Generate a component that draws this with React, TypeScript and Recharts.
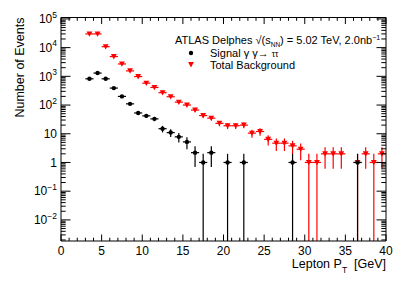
import React from "react";
import { ScatterChart, Scatter, XAxis, YAxis, ErrorBar } from "recharts";

// bin centres [GeV], events per bin and stat. errors
const sigX = [3.5, 4.5, 5.5, 6.5, 7.5, 8.5, 9.5, 10.5, 11.5, 12.5, 13.5, 14.5, 15.5, 16.5, 17.5, 18.5, 20.5, 22.5, 28.5, 36.5];
const sigY = [820, 1300, 820, 390, 200, 110, 53, 42, 33, 15, 11, 7.8, 5.2, 2.2, 1, 2.2, 1, 1, 1, 1];
const sigErr = [29, 36, 29, 20, 14, 10.5, 7.3, 6.5, 5.7, 3.9, 3.3, 2.8, 2.3, 1.5, 1, 1.5, 1, 1, 1, 1];

const bkgX = [
  3.5, 4.5, 5.5, 6.5, 7.5, 8.5, 9.5, 10.5, 11.5, 12.5, 13.5, 14.5, 15.5, 16.5, 17.5, 18.5,
  19.5, 20.5, 21.5, 22.5, 23.5, 24.5, 25.5, 26.5, 27.5, 28.5, 29.5, 30.5, 31.5, 32.5, 33.5, 34.5,
  36.5, 37.5, 38.5, 39.5,
];
const bkgY = [
  30000, 30000, 10800, 4900, 2700, 1550, 980, 580, 410, 270, 195, 126, 100, 67, 43, 35,
  23, 19, 19, 20, 10.5, 12, 6.4, 4.7, 4.7, 3.8, 2.9, 1, 1, 2, 2, 2,
  1, 2, 1, 2,
];
const bkgErr = [
  173, 173, 104, 70, 52, 39, 31, 24, 20, 16, 14, 11, 10, 8.2, 6.6, 5.9,
  4.8, 4.4, 4.4, 4.5, 3.2, 3.5, 2.5, 2.2, 2.2, 1.9, 1.7, 1, 1, 1.4, 1.4, 1.4,
  1, 1.4, 1, 1.4,
];

const BIN_HALF = 0.5;
const xMajorTicks = [0, 5, 10, 15, 20, 25, 30, 35, 40];
const yDecades = [-3, -2, -1, 0, 1, 2, 3, 4, 5];
const X_DOMAIN: [number, number] = [0, 40];
const Y_DOMAIN: [number, number] = [0.00184, 112000];

const FONT = "'Liberation Sans', Arial, Helvetica, sans-serif";

const toRows = (xs: number[], ys: number[], errs: number[]) =>
  xs.map((x, i) => ({
    x,
    y: ys[i],
    ex: BIN_HALF,
    // clip the lower error at the bottom of the log axis
    ey: [Math.min(errs[i], ys[i] - Y_DOMAIN[0]), errs[i]],
  }));

const sigData = toRows(sigX, sigY, sigErr);
const bkgData = toRows(bkgX, bkgY, bkgErr);

const xTicks: number[] = [];
for (let v = X_DOMAIN[0]; v <= X_DOMAIN[1]; v++) xTicks.push(v);

const yTicks: number[] = [];
yDecades.forEach((e) => {
  for (let m = 1; m <= 9; m++) {
    const v = m * Math.pow(10, e);
    if (v >= Y_DOMAIN[0] && v <= Y_DOMAIN[1]) yTicks.push(v);
  }
});

const isXMajor = (v: number) => xMajorTicks.includes(v);
const decadeOf = (v: number) => {
  const e = Math.round(Math.log10(v));
  return Math.abs(v / Math.pow(10, e) - 1) < 1e-6 ? e : null;
};

const XTickBottom = ({ x, y, payload }: any) => {
  const major = isXMajor(payload.value);
  return (
    <g>
      <line x1={x} x2={x} y1={y} y2={y - (major ? 6.5 : 3.3)} stroke="#000" />
      {major && (
        <text x={x} y={y + 14} textAnchor="middle" fontSize={12} fontFamily={FONT} fill="#000">
          {payload.value}
        </text>
      )}
    </g>
  );
};

const XTickTop = ({ x, y, payload }: any) => {
  const major = isXMajor(payload.value);
  return <line x1={x} x2={x} y1={y} y2={y + (major ? 6.5 : 3.3)} stroke="#000" />;
};

const YTickLeft = ({ x, y, payload }: any) => {
  const e = decadeOf(payload.value);
  const major = e !== null;
  let label: React.ReactNode = null;
  if (major) {
    const props = { x: x - 4, y: y + 4.3, textAnchor: "end" as const, fontSize: 12, fontFamily: FONT, fill: "#000" };
    if (e === 0) label = <text {...props}>1</text>;
    else if (e === 1) label = <text {...props}>10</text>;
    else if (e! >= -2)
      label = (
        <text {...props}>
          10
          <tspan dy={-5.5} fontSize={8.5}>
            {e! < 0 ? "\u2212" + -e! : e}
          </tspan>
        </text>
      );
  }
  return (
    <g>
      <line x1={x} x2={x + (major ? 9.5 : 4.7)} y1={y} y2={y} stroke="#000" />
      {label}
    </g>
  );
};

const YTickRight = ({ x, y, payload }: any) => {
  const major = decadeOf(payload.value) !== null;
  return <line x1={x} x2={x - (major ? 9.5 : 4.7)} y1={y} y2={y} stroke="#000" />;
};

const Dot = ({ cx, cy }: any) => <circle cx={cx} cy={cy} r={2.2} fill="#000" />;
const TriDown = ({ cx, cy }: any) => (
  <polygon points={`${cx - 2.9},${cy - 2.5} ${cx + 2.9},${cy - 2.5} ${cx},${cy + 2.9}`} fill="#ff0000" />
);

export default function App() {
  return (
    <div style={{ position: "absolute", left: 0, top: 0, width: 407, height: 281, background: "#fff" }}>
      <ScatterChart width={407} height={281} margin={{ top: 0, right: 0, bottom: 0, left: 0 }}>
        <XAxis
          xAxisId="bottom"
          dataKey="x"
          type="number"
          orientation="bottom"
          domain={X_DOMAIN}
          allowDataOverflow
          ticks={xTicks}
          interval={0}
          height={40}
          tickSize={0}
          tickMargin={0}
          tickLine={false}
          axisLine={{ stroke: "#000" }}
          tick={<XTickBottom />}
        />
        <XAxis
          xAxisId="top"
          dataKey="x"
          type="number"
          orientation="top"
          domain={X_DOMAIN}
          allowDataOverflow
          ticks={xTicks}
          interval={0}
          height={17.5}
          tickSize={0}
          tickMargin={0}
          tickLine={false}
          axisLine={{ stroke: "#000" }}
          tick={<XTickTop />}
        />
        <YAxis
          yAxisId="left"
          dataKey="y"
          type="number"
          scale="log"
          orientation="left"
          domain={Y_DOMAIN}
          allowDataOverflow
          ticks={yTicks}
          interval={0}
          width={61}
          tickSize={0}
          tickMargin={0}
          tickLine={false}
          axisLine={{ stroke: "#000" }}
          tick={<YTickLeft />}
        />
        <YAxis
          yAxisId="right"
          dataKey="y"
          type="number"
          scale="log"
          orientation="right"
          domain={Y_DOMAIN}
          allowDataOverflow
          ticks={yTicks}
          interval={0}
          width={21}
          tickSize={0}
          tickMargin={0}
          tickLine={false}
          axisLine={{ stroke: "#000" }}
          tick={<YTickRight />}
        />
        <Scatter
          name="Total Background"
          data={bkgData}
          xAxisId="bottom"
          yAxisId="left"
          shape={<TriDown />}
          isAnimationActive={false}
        >
          <ErrorBar dataKey="ey" direction="y" width={0} stroke="#ff0000" strokeWidth={1.2} isAnimationActive={false} />
          <ErrorBar dataKey="ex" direction="x" width={0} stroke="#ff0000" strokeWidth={1.2} isAnimationActive={false} />
        </Scatter>
        <Scatter
          name="Signal"
          data={sigData}
          xAxisId="top"
          yAxisId="right"
          shape={<Dot />}
          isAnimationActive={false}
        >
          <ErrorBar dataKey="ey" direction="y" width={0} stroke="#000" strokeWidth={1.2} isAnimationActive={false} />
          <ErrorBar dataKey="ex" direction="x" width={0} stroke="#000" strokeWidth={1.2} isAnimationActive={false} />
        </Scatter>
      </ScatterChart>
      <svg
        width={407}
        height={281}
        style={{ position: "absolute", left: 0, top: 0, pointerEvents: "none" }}
        fontFamily={FONT}
      >
        <text transform="translate(24,17.5) rotate(-90)" textAnchor="end" fontSize={12.5} fill="#000">
          Number of Events
        </text>
        <text x={386} y={267.5} textAnchor="end" fontSize={12.5} fill="#000">
          Lepton P<tspan dy={5} fontSize={8.5}>T</tspan>
          <tspan dy={-5}>{"\u00a0 [GeV]"}</tspan>
        </text>
        <text x={175} y={44} fontSize={11} fill="#000">
          ATLAS Delphes √(s<tspan dy={2.5} fontSize={6.5}>NN</tspan>
          <tspan dy={-2.5}>) = 5.02 TeV, 2.0nb</tspan>
          <tspan dy={-4.5} fontSize={7}>−1</tspan>
        </text>
        <circle cx={191} cy={53} r={2.2} fill="#000" />
        <text x={210} y={57} fontSize={11} fill="#000">
          Signal γ γ→ <tspan dy={-0.5} fontSize={8.5}>ττ</tspan>
        </text>
        <polygon points="188.1,62 193.9,62 191,67.4" fill="#ff0000" />
        <text x={210} y={68.5} fontSize={11} fill="#000">
          Total Background
        </text>
      </svg>
    </div>
  );
}
